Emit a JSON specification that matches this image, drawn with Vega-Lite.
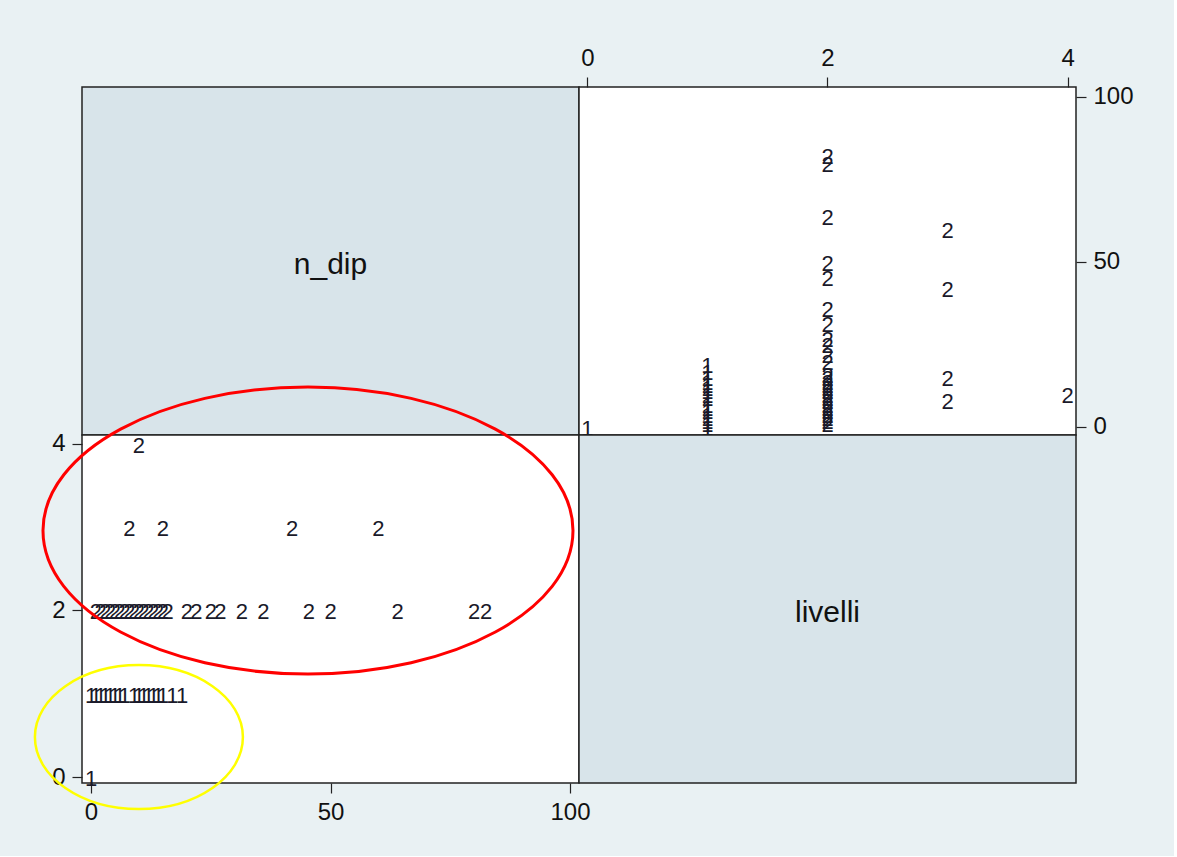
{
  "$schema": "https://vega.github.io/schema/vega-lite/v6.json",
  "background": "#E9F1F3",
  "padding": {"left": 29, "top": 45, "right": 40, "bottom": 31},
  "columns": 2,
  "spacing": 0,
  "bounds": "flush",
  "datasets": {
    "obs": [
      {"n_dip": 0, "livelli": 0, "cluster": "1"},
      {"n_dip": 0, "livelli": 1, "cluster": "1"},
      {"n_dip": 1, "livelli": 1, "cluster": "1"},
      {"n_dip": 2, "livelli": 1, "cluster": "1"},
      {"n_dip": 3, "livelli": 1, "cluster": "1"},
      {"n_dip": 4, "livelli": 1, "cluster": "1"},
      {"n_dip": 5, "livelli": 1, "cluster": "1"},
      {"n_dip": 6, "livelli": 1, "cluster": "1"},
      {"n_dip": 7, "livelli": 1, "cluster": "1"},
      {"n_dip": 9, "livelli": 1, "cluster": "1"},
      {"n_dip": 10, "livelli": 1, "cluster": "1"},
      {"n_dip": 11, "livelli": 1, "cluster": "1"},
      {"n_dip": 12, "livelli": 1, "cluster": "1"},
      {"n_dip": 13, "livelli": 1, "cluster": "1"},
      {"n_dip": 14, "livelli": 1, "cluster": "1"},
      {"n_dip": 15, "livelli": 1, "cluster": "1"},
      {"n_dip": 17, "livelli": 1, "cluster": "1"},
      {"n_dip": 19, "livelli": 1, "cluster": "1"},
      {"n_dip": 1, "livelli": 2, "cluster": "2"},
      {"n_dip": 2, "livelli": 2, "cluster": "2"},
      {"n_dip": 3, "livelli": 2, "cluster": "2"},
      {"n_dip": 4, "livelli": 2, "cluster": "2"},
      {"n_dip": 5, "livelli": 2, "cluster": "2"},
      {"n_dip": 6, "livelli": 2, "cluster": "2"},
      {"n_dip": 7, "livelli": 2, "cluster": "2"},
      {"n_dip": 8, "livelli": 2, "cluster": "2"},
      {"n_dip": 9, "livelli": 2, "cluster": "2"},
      {"n_dip": 10, "livelli": 2, "cluster": "2"},
      {"n_dip": 11, "livelli": 2, "cluster": "2"},
      {"n_dip": 12, "livelli": 2, "cluster": "2"},
      {"n_dip": 13, "livelli": 2, "cluster": "2"},
      {"n_dip": 14, "livelli": 2, "cluster": "2"},
      {"n_dip": 15, "livelli": 2, "cluster": "2"},
      {"n_dip": 16, "livelli": 2, "cluster": "2"},
      {"n_dip": 20, "livelli": 2, "cluster": "2"},
      {"n_dip": 22, "livelli": 2, "cluster": "2"},
      {"n_dip": 25, "livelli": 2, "cluster": "2"},
      {"n_dip": 27, "livelli": 2, "cluster": "2"},
      {"n_dip": 31.5, "livelli": 2, "cluster": "2"},
      {"n_dip": 36, "livelli": 2, "cluster": "2"},
      {"n_dip": 45.5, "livelli": 2, "cluster": "2"},
      {"n_dip": 50, "livelli": 2, "cluster": "2"},
      {"n_dip": 64, "livelli": 2, "cluster": "2"},
      {"n_dip": 80, "livelli": 2, "cluster": "2"},
      {"n_dip": 82.5, "livelli": 2, "cluster": "2"},
      {"n_dip": 8, "livelli": 3, "cluster": "2"},
      {"n_dip": 15, "livelli": 3, "cluster": "2"},
      {"n_dip": 42, "livelli": 3, "cluster": "2"},
      {"n_dip": 60, "livelli": 3, "cluster": "2"},
      {"n_dip": 10, "livelli": 4, "cluster": "2"}
    ],
    "highlights": [
      {"area": "red", "n_dip": 45.3, "livelli": 2.96},
      {"area": "yellow", "n_dip": 10, "livelli": 0.48}
    ]
  },
  "config": {
    "font": "Liberation Sans",
    "view": {"stroke": "#222222", "strokeWidth": 1.5},
    "axis": {
      "domain": false,
      "grid": false,
      "ticks": true,
      "tickColor": "#222222",
      "tickSize": 10,
      "tickWidth": 1.2,
      "labelFont": "Liberation Sans",
      "labelFontSize": 24,
      "labelColor": "#111111",
      "labelPadding": 7,
      "title": null
    }
  },
  "concat": [
    {
      "width": 497,
      "height": 348,
      "view": {"fill": "#D8E4EA", "stroke": "#222222", "strokeWidth": 1.5},
      "data": {"values": [{"name": "n_dip"}]},
      "mark": {"type": "text", "font": "Liberation Sans", "fontSize": 30, "color": "#111111", "baseline": "middle", "align": "center", "dy": 4},
      "encoding": {"text": {"field": "name"}}
    },
    {
      "width": 497,
      "height": 348,
      "view": {"fill": "#FFFFFF", "stroke": "#222222", "strokeWidth": 1.5},
      "data": {"name": "obs"},
      "mark": {"type": "text", "font": "Liberation Sans", "fontSize": 22, "color": "#1a1a2a", "baseline": "middle", "align": "center", "dy": 2},
      "encoding": {
        "x": {"field": "livelli", "type": "quantitative", "scale": {"domain": [-0.07, 4.07], "nice": false, "zero": false}, "axis": {"orient": "top", "values": [0, 2, 4], "title": null}},
        "y": {"field": "n_dip", "type": "quantitative", "scale": {"domain": [-2.5, 103], "nice": false, "zero": false}, "axis": {"orient": "right", "values": [0, 50, 100], "title": null}},
        "text": {"field": "cluster"}
      }
    },
    {
      "width": 497,
      "height": 348,
      "view": {"fill": "#FFFFFF", "stroke": "#222222", "strokeWidth": 1.5},
      "encoding": {
        "x": {"field": "n_dip", "type": "quantitative", "scale": {"domain": [-1.88, 101.88], "nice": false, "zero": false}, "axis": {"orient": "bottom", "values": [0, 50, 100], "title": null}},
        "y": {"field": "livelli", "type": "quantitative", "scale": {"domain": [-0.072, 4.108], "nice": false, "zero": false}, "axis": {"orient": "left", "values": [0, 2, 4], "title": null}}
      },
      "layer": [
        {
          "data": {"name": "obs"},
          "mark": {"type": "text", "font": "Liberation Sans", "fontSize": 22, "color": "#1a1a2a", "baseline": "middle", "align": "center", "dy": 2},
          "encoding": {"text": {"field": "cluster"}}
        },
        {
          "data": {"name": "highlights"},
          "transform": [{"filter": "datum.area === 'red'"}],
          "mark": {"type": "point", "shape": "M -1 0 A 1 0.5415 0 1 0 1 0 A 1 0.5415 0 1 0 -1 0 Z", "size": 280900, "filled": false, "color": "#FF0000", "strokeWidth": 3, "opacity": 1}
        },
        {
          "data": {"name": "highlights"},
          "transform": [{"filter": "datum.area === 'yellow'"}],
          "mark": {"type": "point", "shape": "M -1 0 A 1 0.692 0 1 0 1 0 A 1 0.692 0 1 0 -1 0 Z", "size": 43264, "filled": false, "color": "#FFFF00", "strokeWidth": 2.5, "opacity": 1}
        }
      ]
    },
    {
      "width": 497,
      "height": 348,
      "view": {"fill": "#D8E4EA", "stroke": "#222222", "strokeWidth": 1.5},
      "data": {"values": [{"name": "livelli"}]},
      "mark": {"type": "text", "font": "Liberation Sans", "fontSize": 30, "color": "#111111", "baseline": "middle", "align": "center", "dy": 4},
      "encoding": {"text": {"field": "name"}}
    }
  ]
}
